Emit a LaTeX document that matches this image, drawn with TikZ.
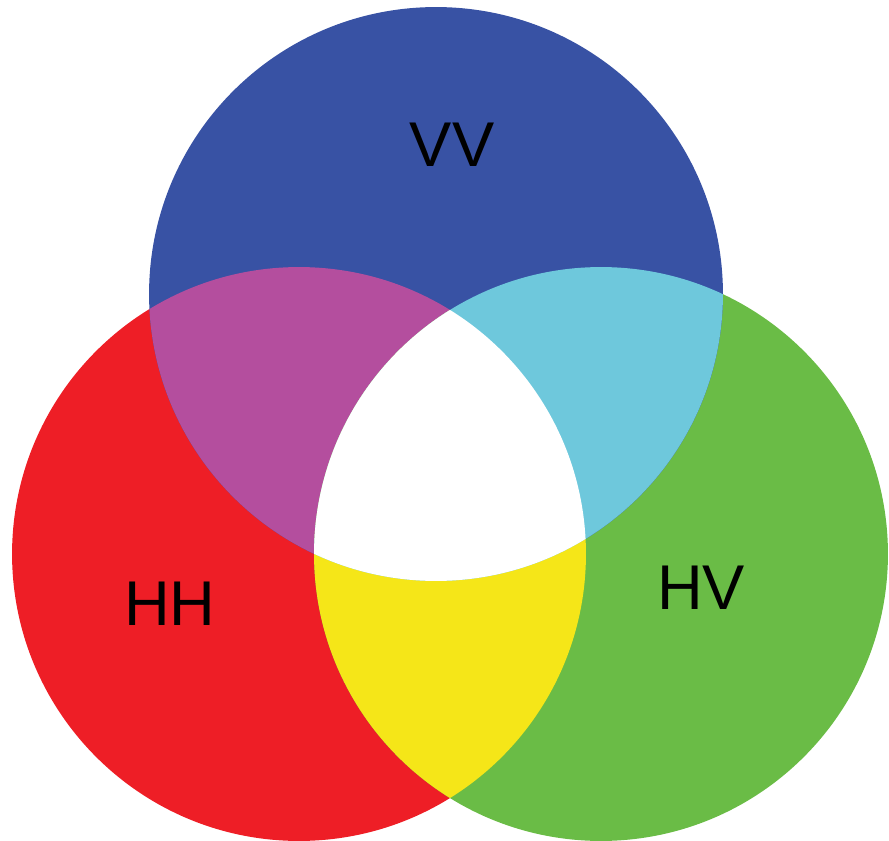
\documentclass[tikz,border=0pt]{standalone}
\usepackage{fontspec}
\setmainfont{Liberation Sans}
\usetikzlibrary{positioning}
\definecolor{vvblue}{RGB}{56,82,164}
\definecolor{hhred}{RGB}{238,30,38}
\definecolor{hvgreen}{RGB}{106,188,70}
\definecolor{mixmagenta}{RGB}{180,78,158}
\definecolor{mixcyan}{RGB}{110,200,220}
\definecolor{mixyellow}{RGB}{245,230,24}
\tikzset{
vvdisc/.style={fill=vvblue},
hhdisc/.style={fill=hhred},
hvdisc/.style={fill=hvgreen},
pairA/.style={fill=mixmagenta},
pairB/.style={fill=mixcyan},
pairC/.style={fill=mixyellow},
core/.style={fill=white},
tag/.style={font=\fontsize{36}{40}\selectfont,text=black,inner sep=0pt}
}
\def\rad{5.74cm}
\begin{document}
\begin{tikzpicture}[x=0.02cm,y=-0.02cm]
\useasboundingbox (0,0) rectangle (889,841);
\coordinate (vvc) at (436,294);
\coordinate (hhc) at (299,554);
\coordinate (hvc) at (601,554);
% the three discs
\fill[hhdisc] (hhc) circle [radius=\rad];
\fill[hvdisc] (hvc) circle [radius=\rad];
\fill[vvdisc] (vvc) circle [radius=\rad];
% pairwise overlaps
\begin{scope}
\clip (hhc) circle [radius=\rad];
\fill[pairA] (vvc) circle [radius=\rad];
\fill[pairC] (hvc) circle [radius=\rad];
\end{scope}
\begin{scope}
\clip (hvc) circle [radius=\rad];
\fill[pairB] (vvc) circle [radius=\rad];
\end{scope}
% all three
\begin{scope}
\clip (hhc) circle [radius=\rad];
\clip (hvc) circle [radius=\rad];
\fill[core] (vvc) circle [radius=\rad];
\end{scope}
\node[tag] (vv) at (452,145) {VV};
\node[tag] (hh) at (170,604) {HH};
\node[tag] (hv) at (701,588) {HV};
\end{tikzpicture}
\end{document}
